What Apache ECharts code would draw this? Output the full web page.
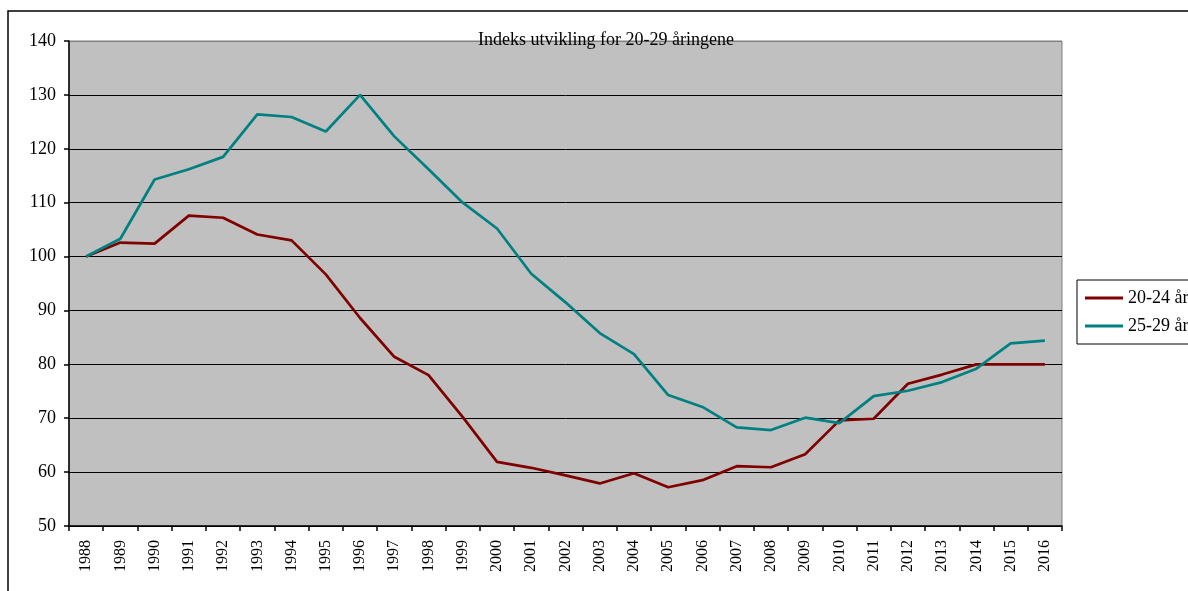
<!DOCTYPE html>
<html>
<head>
<meta charset="utf-8">
<script src="https://cdn.jsdelivr.net/npm/echarts@6/dist/echarts.min.js"></script>
<style>
html,body{margin:0;padding:0;background:#fff;}
#chart{width:1188px;height:591px;}
</style>
</head>
<body>
<div id="chart"></div>
<script>
const titleText = 'Indeks utvikling for 20-29 åringene';
const years = ['1988','1989','1990','1991','1992','1993','1994','1995','1996','1997','1998','1999','2000','2001','2002','2003','2004','2005','2006','2007','2008','2009','2010','2011','2012','2013','2014','2015','2016'];
const seriesNames = ['20-24 år', '25-29 år'];
const age2024 = [100, 102.6, 102.4, 107.6, 107.2, 104.1, 103.0, 96.7, 88.6, 81.4, 78.0, 70.2, 61.9, 60.8, 59.4, 57.9, 59.8, 57.2, 58.5, 61.1, 60.9, 63.3, 69.6, 69.9, 76.4, 78.1, 80.0, 80.0, 80.0];
const age2529 = [100, 103.3, 114.3, 116.2, 118.5, 126.4, 125.9, 123.2, 130.0, 122.3, 116.2, 110.0, 105.2, 96.8, 91.5, 85.8, 81.9, 74.3, 72.1, 68.3, 67.8, 70.1, 69.1, 74.1, 75.1, 76.7, 79.2, 83.9, 84.4];
const yTicks = {min: 50, max: 140, interval: 10};

const serif = '"Liberation Serif", "DejaVu Serif", serif';
const chart = echarts.init(document.getElementById('chart'), null, {renderer: 'canvas'});
chart.setOption({
  animation: false,
  backgroundColor: '#ffffff',
  graphic: [{
    type: 'rect',
    shape: {x: 8, y: 11, width: 1300, height: 700},
    style: {fill: 'none', stroke: '#000', lineWidth: 1.5},
    silent: true,
    z: 0
  }],
  title: {
    text: titleText,
    left: 606,
    top: 31,
    textAlign: 'center',
    padding: 0,
    textStyle: {fontFamily: serif, fontSize: 18, fontWeight: 'normal', color: '#000'}
  },
  legend: {
    orient: 'vertical',
    left: 1077,
    top: 280,
    padding: [9, 20, 9, 8],
    itemGap: 10,
    itemWidth: 38,
    itemHeight: 3,
    icon: 'rect',
    borderColor: '#000',
    borderWidth: 1,
    backgroundColor: '#fff',
    textStyle: {fontFamily: serif, fontSize: 18, color: '#000', padding: [0, 0, 0, 0]},
    data: seriesNames
  },
  grid: {
    left: 69, right: 126, top: 41, bottom: 65,
    show: true,
    backgroundColor: '#c0c0c0',
    borderColor: '#808080',
    borderWidth: 1,
    containLabel: false
  },
  xAxis: {
    type: 'category',
    data: years,
    boundaryGap: true,
    axisLine: {lineStyle: {color: '#000', width: 1.5}},
    axisTick: {show: true, length: 5, lineStyle: {color: '#000', width: 1.5}},
    axisLabel: {rotate: 90, margin: 14, fontFamily: serif, fontSize: 16, color: '#000', interval: 0},
    splitLine: {show: false}
  },
  yAxis: {
    type: 'value',
    min: yTicks.min, max: yTicks.max, interval: yTicks.interval,
    axisLine: {show: true, lineStyle: {color: '#000', width: 1.5}},
    axisTick: {show: true, length: 5, lineStyle: {color: '#000', width: 1.5}},
    axisLabel: {margin: 13, fontFamily: serif, fontSize: 18, color: '#000'},
    splitLine: {show: true, lineStyle: {color: ['#000','#000','#000','#000','#000','#000','#000','#000','#000','#808080'], width: 1}}
  },
  series: [
    {name: seriesNames[0], type: 'line', data: age2024, symbol: 'none', color: '#800000', lineStyle: {width: 2.7, color: '#800000'}},
    {name: seriesNames[1], type: 'line', data: age2529, symbol: 'none', color: '#008080', lineStyle: {width: 2.7, color: '#008080'}}
  ]
});
</script>
</body>
</html>
